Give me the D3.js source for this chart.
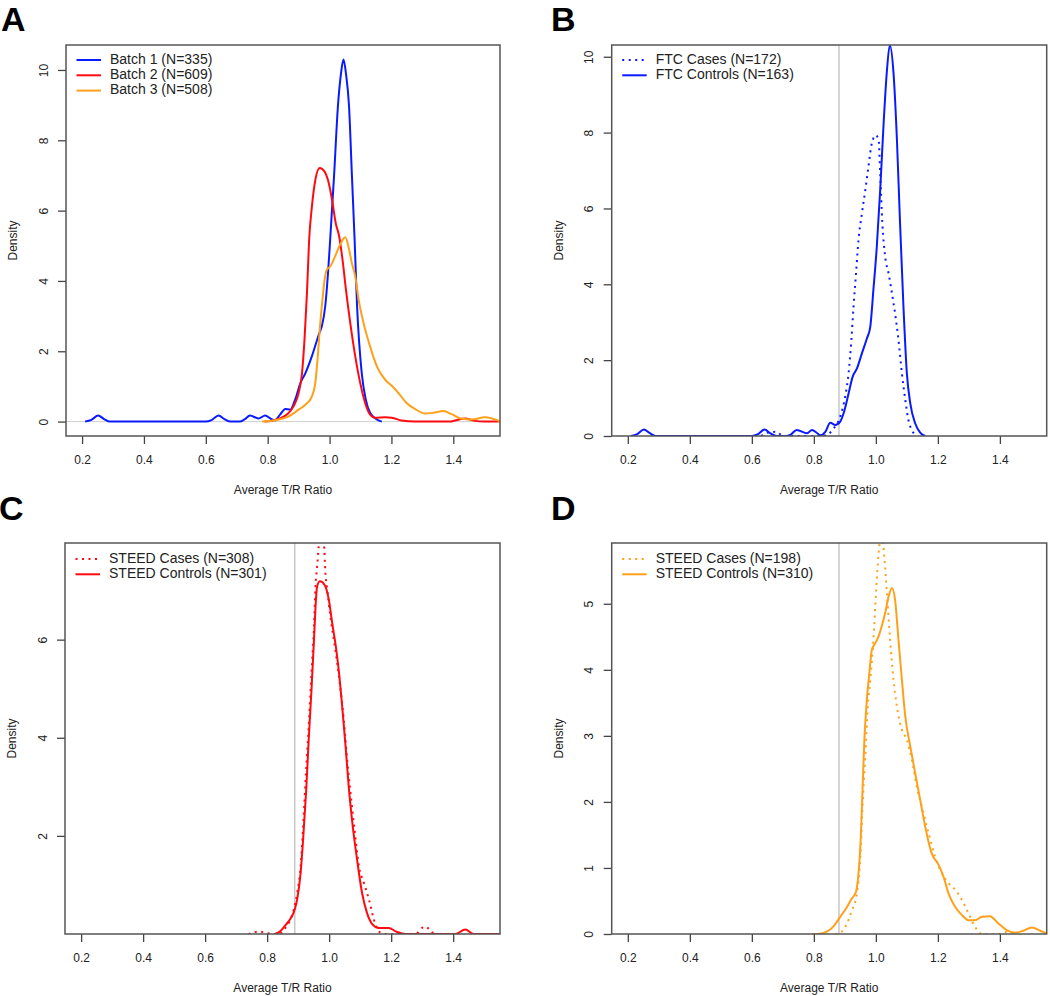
<html>
<head>
	<meta http-equiv="Content-Type" content="text/html; charset=utf-8" />
	<script src="https://cdn.jsdelivr.net/npm/d3@7/dist/d3.min.js" charset="utf-8"></script>

	<style type="text/css">
	body {
	  background-color: white;
	  margin: 0;
	}
	svg text {
	  font-family: "Liberation Sans", Arial, Helvetica, sans-serif;
	  fill: #222;
	}
	.axis line {
	  stroke: #444;
	  stroke-width: 1.3;
	}
	.axis text {
	  font-size: 12px;
	}
	</style>
</head>
<body>

	<svg width="1050" height="996" version="1.1" xmlns="http://www.w3.org/2000/svg">
	</svg>

	<script type="text/javascript">
		// x 轴刻度
		var v_XTicks    = [0.2 ,0.4 ,0.6 ,0.8 ,1.0 ,1.2 ,1.4];
		var v_XDomain   = [0.148 ,1.551];

		// y 轴刻度
		var v_YTicksA   = [0 ,2 ,4 ,6 ,8 ,10];
		var v_YTicksB   = [0 ,2 ,4 ,6 ,8 ,10];
		var v_YTicksC   = [2 ,4 ,6];
		var v_YTicksD   = [0 ,1 ,2 ,3 ,4 ,5];

		// 图例
		var v_LegendA   = ["Batch 1 (N=335)" ,"Batch 2 (N=609)" ,"Batch 3 (N=508)"];
		var v_LegendB   = ["FTC Cases (N=172)" ,"FTC Controls (N=163)"];
		var v_LegendC   = ["STEED Cases (N=308)" ,"STEED Controls (N=301)"];
		var v_LegendD   = ["STEED Cases (N=198)" ,"STEED Controls (N=310)"];

		// A: Batch 1
		var v_Batch1X   = [0.21 ,0.23 ,0.252 ,0.27 ,0.29 ,0.60 ,0.62 ,0.641 ,0.66 ,0.68 ,0.71 ,0.725 ,0.743 ,0.77 ,0.792 ,0.81 ,0.824 ,0.84 ,0.857 ,0.873 ,0.889 ,0.906 ,0.922 ,0.943 ,0.967 ,0.975 ,0.986 ,0.995 ,1.002 ,1.015 ,1.027 ,1.037 ,1.045 ,1.053 ,1.063 ,1.072 ,1.081 ,1.089 ,1.104 ,1.117 ,1.131 ,1.153 ,1.169];
		var v_Batch1Y   = [0 ,0.05 ,0.17 ,0.08 ,0 ,0 ,0.05 ,0.17 ,0.07 ,0 ,0 ,0.06 ,0.17 ,0.09 ,0.17 ,0.08 ,0.04 ,0.2 ,0.36 ,0.34 ,0.63 ,1.1 ,1.38 ,1.86 ,2.52 ,2.71 ,3.28 ,4.22 ,5.17 ,7.06 ,8.96 ,9.9 ,10.3 ,9.9 ,8.96 ,7.06 ,5.17 ,3.28 ,1.38 ,0.63 ,0.25 ,0.06 ,0];
		// A: Batch 2
		var v_Batch2X   = [0.79 ,0.814 ,0.835 ,0.862 ,0.884 ,0.9 ,0.911 ,0.919 ,0.927 ,0.934 ,0.943 ,0.954 ,0.968 ,0.984 ,0.995 ,1.008 ,1.02 ,1.031 ,1.042 ,1.053 ,1.067 ,1.083 ,1.099 ,1.115 ,1.131 ,1.147 ,1.18 ,1.201 ,1.233 ,1.276 ,1.39 ,1.405 ,1.438 ,1.47 ,1.5 ,1.551];
		var v_Batch2Y   = [0 ,0.02 ,0.08 ,0.2 ,0.44 ,0.81 ,1.38 ,2.33 ,3.66 ,5.17 ,6.12 ,6.87 ,7.21 ,7.11 ,6.87 ,6.31 ,5.64 ,5.27 ,4.6 ,3.75 ,2.8 ,1.86 ,1.1 ,0.53 ,0.2 ,0.11 ,0.12 ,0.11 ,0.03 ,0 ,0 ,0.03 ,0.09 ,0.02 ,0 ,0];
		// A: Batch 3
		var v_Batch3X   = [0.782 ,0.835 ,0.868 ,0.9 ,0.922 ,0.943 ,0.954 ,0.962 ,0.97 ,0.977 ,0.984 ,0.991 ,1.002 ,1.018 ,1.034 ,1.051 ,1.061 ,1.072 ,1.083 ,1.094 ,1.11 ,1.131 ,1.153 ,1.18 ,1.201 ,1.223 ,1.249 ,1.276 ,1.309 ,1.335 ,1.368 ,1.395 ,1.427 ,1.459 ,1.502 ,1.551];
		var v_Batch3Y   = [0 ,0.06 ,0.15 ,0.34 ,0.48 ,0.72 ,1.1 ,1.86 ,2.8 ,3.47 ,4.03 ,4.32 ,4.41 ,4.7 ,5.03 ,5.24 ,4.98 ,4.51 ,4.13 ,3.47 ,2.8 ,2.14 ,1.57 ,1.19 ,1.02 ,0.81 ,0.53 ,0.36 ,0.23 ,0.25 ,0.3 ,0.21 ,0.08 ,0.06 ,0.12 ,0.01];

		// B: FTC Cases
		var v_FtcCaseX  = [0.63 ,0.655 ,0.68 ,0.70 ,0.82 ,0.842 ,0.864 ,0.885 ,0.901 ,0.912 ,0.921 ,0.928 ,0.936 ,0.944 ,0.955 ,0.966 ,0.976 ,0.987 ,1.0 ,1.009 ,1.014 ,1.021 ,1.03 ,1.041 ,1.052 ,1.062 ,1.073 ,1.084 ,1.095 ,1.105 ,1.116 ,1.132];
		var v_FtcCaseY  = [0 ,0.1 ,0.11 ,0 ,0 ,0.03 ,0.2 ,0.51 ,1.04 ,1.65 ,2.53 ,3.41 ,4.29 ,5.17 ,5.87 ,6.49 ,7.1 ,7.72 ,7.93 ,7.8 ,6.92 ,5.61 ,4.73 ,4.29 ,3.76 ,3.23 ,2.53 ,1.65 ,0.95 ,0.42 ,0.16 ,0];
		// B: FTC Controls
		var v_FtcCtrlX  = [0.21 ,0.23 ,0.252 ,0.27 ,0.29 ,0.60 ,0.62 ,0.641 ,0.66 ,0.68 ,0.71 ,0.724 ,0.745 ,0.778 ,0.794 ,0.81 ,0.821 ,0.837 ,0.853 ,0.869 ,0.885 ,0.896 ,0.912 ,0.925 ,0.939 ,0.955 ,0.971 ,0.982 ,0.992 ,1.003 ,1.014 ,1.025 ,1.035 ,1.045 ,1.057 ,1.068 ,1.078 ,1.089 ,1.1 ,1.111 ,1.127 ,1.143 ,1.159];
		var v_FtcCtrlY  = [0 ,0.05 ,0.17 ,0.08 ,0 ,0 ,0.05 ,0.17 ,0.07 ,0 ,0 ,0.03 ,0.16 ,0.07 ,0.16 ,0.08 ,0.02 ,0.11 ,0.35 ,0.29 ,0.38 ,0.6 ,1.12 ,1.56 ,1.78 ,2.18 ,2.57 ,2.88 ,3.85 ,4.99 ,6.49 ,8.24 ,9.56 ,10.31 ,9.56 ,7.8 ,5.61 ,3.41 ,1.65 ,0.86 ,0.33 ,0.09 ,0];

		// C: STEED Cases
		var v_SteedCaseCX = [0.74 ,0.773 ,0.80 ,0.82 ,0.838 ,0.854 ,0.87 ,0.886 ,0.897 ,0.908 ,0.915 ,0.924 ,0.934 ,0.943 ,0.951 ,0.956 ,0.961 ,0.973 ,0.983 ,0.988 ,0.994 ,1.004 ,1.02 ,1.033 ,1.047 ,1.058 ,1.069 ,1.083 ,1.096 ,1.112 ,1.128 ,1.144 ,1.16 ,1.182 ,1.278 ,1.307 ,1.337];
		var v_SteedCaseCY = [0 ,0.05 ,0.02 ,0 ,0 ,0.09 ,0.23 ,0.5 ,0.84 ,1.38 ,2.06 ,3.15 ,4.23 ,5.32 ,6.26 ,7.08 ,7.48 ,8.2 ,7.96 ,7.35 ,7.01 ,6.47 ,5.79 ,5.18 ,4.37 ,3.55 ,2.87 ,2.06 ,1.38 ,1.04 ,0.71 ,0.3 ,0.05 ,0 ,0 ,0.15 ,0];
		// C: STEED Controls
		var v_SteedCtrlCX = [0.825 ,0.843 ,0.859 ,0.875 ,0.889 ,0.897 ,0.908 ,0.916 ,0.926 ,0.934 ,0.943 ,0.951 ,0.956 ,0.961 ,0.97 ,0.986 ,0.999 ,1.01 ,1.023 ,1.033 ,1.042 ,1.053 ,1.063 ,1.076 ,1.09 ,1.106 ,1.122 ,1.139 ,1.16 ,1.192 ,1.219 ,1.246 ,1.407 ,1.439 ,1.466 ,1.551];
		var v_SteedCtrlCY = [0 ,0.06 ,0.18 ,0.31 ,0.5 ,0.71 ,1.25 ,1.93 ,2.94 ,3.96 ,4.98 ,5.99 ,6.67 ,7.08 ,7.19 ,7.11 ,6.81 ,6.33 ,5.79 ,5.25 ,4.64 ,3.82 ,3.01 ,2.2 ,1.52 ,0.84 ,0.43 ,0.2 ,0.12 ,0.12 ,0.04 ,0 ,0 ,0.09 ,0 ,0];

		// D: STEED Cases
		var v_SteedCaseDX = [0.869 ,0.89 ,0.907 ,0.923 ,0.939 ,0.95 ,0.957 ,0.966 ,0.974 ,0.982 ,0.992 ,1.001 ,1.009 ,1.018 ,1.028 ,1.035 ,1.046 ,1.057 ,1.068 ,1.084 ,1.1 ,1.116 ,1.132 ,1.148 ,1.17 ,1.191 ,1.213 ,1.234 ,1.256 ,1.277 ,1.299 ,1.32 ,1.342 ,1.395 ,1.427 ,1.45];
		var v_SteedCaseDY = [0 ,0.035 ,0.16 ,0.36 ,0.62 ,1.17 ,1.93 ,2.69 ,3.44 ,3.85 ,4.45 ,5.21 ,5.77 ,6.05 ,5.67 ,5.21 ,4.45 ,3.85 ,3.44 ,3.09 ,2.94 ,2.64 ,2.23 ,1.93 ,1.53 ,1.17 ,0.92 ,0.77 ,0.67 ,0.52 ,0.31 ,0.11 ,0 ,0 ,0.035 ,0];
		// D: STEED Controls
		var v_SteedCtrlDX = [0.794 ,0.81 ,0.842 ,0.864 ,0.885 ,0.907 ,0.923 ,0.936 ,0.944 ,0.951 ,0.957 ,0.963 ,0.971 ,0.979 ,0.987 ,0.998 ,1.009 ,1.019 ,1.03 ,1.041 ,1.052 ,1.062 ,1.073 ,1.084 ,1.095 ,1.111 ,1.127 ,1.143 ,1.159 ,1.18 ,1.202 ,1.218 ,1.234 ,1.256 ,1.277 ,1.299 ,1.32 ,1.342 ,1.368 ,1.395 ,1.422 ,1.449 ,1.476 ,1.503 ,1.53 ,1.556];
		var v_SteedCtrlDY = [0 ,0 ,0.035 ,0.12 ,0.26 ,0.41 ,0.54 ,0.64 ,0.92 ,1.42 ,2.18 ,2.94 ,3.55 ,3.95 ,4.3 ,4.4 ,4.51 ,4.66 ,4.86 ,5.11 ,5.24 ,5.06 ,4.45 ,3.85 ,3.29 ,2.84 ,2.43 ,2.03 ,1.63 ,1.22 ,1.05 ,0.87 ,0.62 ,0.41 ,0.29 ,0.21 ,0.21 ,0.26 ,0.27 ,0.16 ,0.06 ,0.02 ,0.05 ,0.1 ,0.05 ,0];

		var v_Blue   = "#0a1aff";
		var v_Red    = "#ff0a10";
		var v_Orange = "#ffa01a";

		var v_Panels = [
			{name:"A" ,lx:1   ,ly:31  ,left:66    ,top:45  ,right:500    ,bottom:436 ,yDomain:[-0.41 ,10.71] ,yTicks:v_YTicksA ,hLine:true  ,vLine:null
			,legendY:60 ,legend:v_LegendA
			,series:[{x:v_Batch1X ,y:v_Batch1Y ,color:v_Blue ,dot:false} ,{x:v_Batch2X ,y:v_Batch2Y ,color:v_Red ,dot:false} ,{x:v_Batch3X ,y:v_Batch3Y ,color:v_Orange ,dot:false}]},
			{name:"B" ,lx:551 ,ly:31  ,left:611.7 ,top:45  ,right:1046.7 ,bottom:436 ,yDomain:[0 ,10.31] ,yTicks:v_YTicksB ,hLine:false ,vLine:0.881
			,legendY:60 ,legend:v_LegendB
			,series:[{x:v_FtcCaseX ,y:v_FtcCaseY ,color:v_Blue ,dot:true} ,{x:v_FtcCtrlX ,y:v_FtcCtrlY ,color:v_Blue ,dot:false}]},
			{name:"C" ,lx:-1  ,ly:520 ,left:65    ,top:543 ,right:500    ,bottom:934 ,yDomain:[0 ,7.97] ,yTicks:v_YTicksC ,hLine:false ,vLine:0.889
			,legendY:559 ,legend:v_LegendC
			,series:[{x:v_SteedCaseCX ,y:v_SteedCaseCY ,color:v_Red ,dot:true} ,{x:v_SteedCtrlCX ,y:v_SteedCtrlCY ,color:v_Red ,dot:false}]},
			{name:"D" ,lx:551 ,ly:520 ,left:611.7 ,top:543 ,right:1046.7 ,bottom:934 ,yDomain:[0 ,5.92] ,yTicks:v_YTicksD ,hLine:false ,vLine:0.881
			,legendY:559 ,legend:v_LegendD
			,series:[{x:v_SteedCaseDX ,y:v_SteedCaseDY ,color:v_Orange ,dot:true} ,{x:v_SteedCtrlDX ,y:v_SteedCtrlDY ,color:v_Orange ,dot:false}]}
		];


		function f_DrawPanel(i_Panel ,i_Index)
		{
			var v_SVG    = d3.select("body").select("svg");
			var v_G      = v_SVG.append("g");
			var v_xScale = d3.scaleLinear().domain(v_XDomain).range([i_Panel.left ,i_Panel.right]);
			var v_yScale = d3.scaleLinear().domain(i_Panel.yDomain).range([i_Panel.bottom ,i_Panel.top]);
			var v_ClipID = "clip_" + i_Panel.name;

			v_SVG.append("clipPath").attr("id" ,v_ClipID)
			     .append("rect")
			     .attr("x" ,i_Panel.left)
			     .attr("y" ,i_Panel.top)
			     .attr("width" ,i_Panel.right - i_Panel.left)
			     .attr("height" ,i_Panel.bottom - i_Panel.top);

			// 灰色参考线
			if ( i_Panel.hLine )
			{
				v_G.append("line")
				   .attr("x1" ,i_Panel.left).attr("x2" ,i_Panel.right)
				   .attr("y1" ,v_yScale(0)).attr("y2" ,v_yScale(0))
				   .attr("stroke" ,"#d0d0d0").attr("stroke-width" ,1);
			}
			if ( i_Panel.vLine != null )
			{
				v_G.append("line")
				   .attr("x1" ,v_xScale(i_Panel.vLine)).attr("x2" ,v_xScale(i_Panel.vLine))
				   .attr("y1" ,i_Panel.top).attr("y2" ,i_Panel.bottom)
				   .attr("stroke" ,"#c8c8c8").attr("stroke-width" ,1.5);
			}

			// x 轴
			var v_GXAxis = v_G.append("g")
			                  .attr("class" ,"axis")
			                  .attr("transform" ,"translate(0," + i_Panel.bottom + ")")
			                  .call(d3.axisBottom(v_xScale)
			                          .tickValues(v_XTicks)
			                          .tickFormat(d3.format(".1f"))
			                          .tickSize(8)
			                          .tickSizeOuter(0)
			                          .tickPadding(11));
			v_GXAxis.select(".domain").remove();

			// y 轴（R 风格：刻度文字竖排）
			var v_GYAxis = v_G.append("g")
			                  .attr("class" ,"axis")
			                  .attr("transform" ,"translate(" + i_Panel.left + ",0)")
			                  .call(d3.axisLeft(v_yScale)
			                          .tickValues(i_Panel.yTicks)
			                          .tickFormat(d3.format("d"))
			                          .tickSize(8)
			                          .tickSizeOuter(0));
			v_GYAxis.select(".domain").remove();
			v_GYAxis.selectAll("text")
			        .attr("x" ,0)
			        .attr("dy" ,0)
			        .attr("text-anchor" ,"middle")
			        .attr("transform" ,"translate(-18.4,0) rotate(-90)");

			// 密度曲线
			var v_Line = d3.line()
			               .x(function(d){ return v_xScale(d[0]); })
			               .y(function(d){ return v_yScale(d[1]); })
			               .curve(d3.curveMonotoneX);

			v_G.append("g")
			   .attr("clip-path" ,"url(#" + v_ClipID + ")")
			   .selectAll("path")
			   .data(i_Panel.series)
			   .enter()
			   .append("path")
			   .attr("d" ,function(d){ return v_Line(d3.zip(d.x ,d.y)); })
			   .attr("fill" ,"none")
			   .attr("stroke" ,function(d){ return d.color; })
			   .attr("stroke-width" ,2)
			   .attr("stroke-dasharray" ,function(d){ return d.dot ? "2,4.5" : null; });

			// 边框
			v_G.append("rect")
			   .attr("x" ,i_Panel.left)
			   .attr("y" ,i_Panel.top)
			   .attr("width" ,i_Panel.right - i_Panel.left)
			   .attr("height" ,i_Panel.bottom - i_Panel.top)
			   .attr("fill" ,"none")
			   .attr("stroke" ,"#555")
			   .attr("stroke-width" ,1.5);

			// 图例
			var v_Legend = v_G.selectAll(".legend_" + i_Panel.name)
			                  .data(i_Panel.series)
			                  .enter()
			                  .append("g")
			                  .attr("class" ,"legend_" + i_Panel.name)
			                  .attr("transform" ,function(d ,i){ return "translate(" + i_Panel.left + "," + (i_Panel.legendY + i * 15.3) + ")"; });
			v_Legend.append("line")
			        .attr("x1" ,10.5).attr("x2" ,35)
			        .attr("y1" ,0).attr("y2" ,0)
			        .attr("stroke" ,function(d){ return d.color; })
			        .attr("stroke-width" ,2)
			        .attr("stroke-dasharray" ,function(d){ return d.dot ? "2,4.5" : null; });
			v_Legend.append("text")
			        .attr("x" ,44)
			        .attr("y" ,3.5)
			        .attr("font-size" ,"14px")
			        .text(function(d ,i){ return i_Panel.legend[i]; });

			// 轴标题
			v_G.append("text")
			   .attr("x" ,(i_Panel.left + i_Panel.right) / 2)
			   .attr("y" ,i_Panel.bottom + 57.6)
			   .attr("text-anchor" ,"middle")
			   .attr("font-size" ,"12px")
			   .text("Average T/R Ratio");
			v_G.append("text")
			   .attr("transform" ,"translate(" + (i_Panel.left - 49) + "," + ((i_Panel.top + i_Panel.bottom) / 2) + ") rotate(-90)")
			   .attr("text-anchor" ,"middle")
			   .attr("font-size" ,"12px")
			   .text("Density");

			// 面板字母
			v_SVG.append("text")
			     .attr("x" ,i_Panel.lx)
			     .attr("y" ,i_Panel.ly)
			     .attr("font-size" ,"34px")
			     .attr("font-weight" ,"bold")
			     .style("fill" ,"#000")
			     .text(i_Panel.name);
		}


		v_Panels.forEach(f_DrawPanel);

	</script>

</body>
</html>
